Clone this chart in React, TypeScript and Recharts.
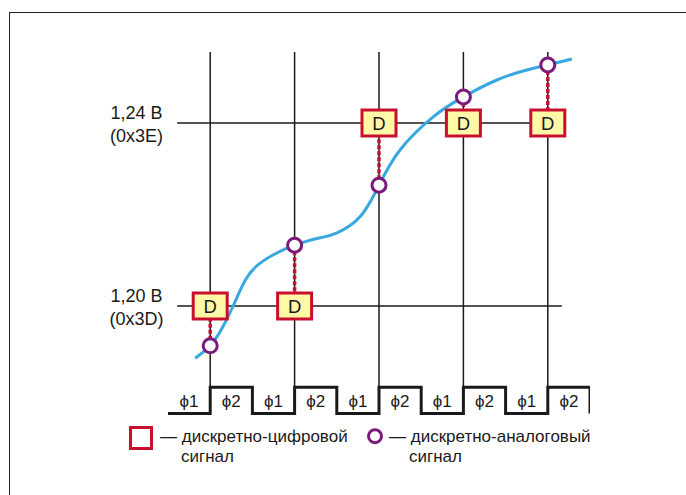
import React from 'react';
import { ComposedChart, Line, Scatter, XAxis, YAxis, ReferenceLine, Legend } from 'recharts';

const FONT = '"Liberation Sans", Arial, Helvetica, sans-serif';
const RED = '#c8102e';
const PURPLE = '#7a1a7c';
const BLUE = '#38a8e0';
const YELLOW = '#fff8a6';
const INK = '#1a1a1a';

// sampling moments (grid columns)
const SAMPLE_X = [1, 2, 3, 4, 5];
// analog value at each sampling moment, V
const ANALOG_V = [1.1913, 1.2133, 1.2264, 1.2457, 1.2527];
// quantized (digital) value, V
const DIGITAL_V = [1.2, 1.2, 1.24, 1.24, 1.24];

// quantization levels
const LEVEL_V = [1.2, 1.24];
const LEVEL_LABELS = ['1,20 В', '1,24 В'];
const LEVEL_CODES = ['(0x3D)', '(0x3E)'];

// continuous input signal
const CURVE_X = [0.822, 1, 1.142, 1.272, 1.42, 1.58, 1.76, 2, 2.302, 2.503, 2.775, 3, 3.249, 3.639, 4, 4.396, 4.751, 5, 5.284];
const CURVE_V = [1.1886, 1.1913, 1.1952, 1.2, 1.2058, 1.2092, 1.2113, 1.2133, 1.2149, 1.216, 1.2195, 1.2264, 1.2341, 1.2413, 1.2457, 1.2494, 1.2516, 1.2527, 1.254];

// two-phase clock
const CLOCK_T = [0.5, 1, 1.5, 2, 2.5, 3, 3.5, 4, 4.5, 5, 5.5];
const CLOCK_LEVEL = [0, 1, 0, 1, 0, 1, 0, 1, 0, 1, 0];
const PHASE_LABELS = ['ϕ1', 'ϕ2', 'ϕ1', 'ϕ2', 'ϕ1', 'ϕ2', 'ϕ1', 'ϕ2', 'ϕ1', 'ϕ2'];

const GRID_TOP_V = 1.2555;
const GRID_BOTTOM_V = 1.1822;
const HLINE_START = 0.609;
const HLINE_END = [5.166, 5.2];

const curveData = CURVE_X.map((x, i) => ({ x, y: CURVE_V[i] }));
const analogData = SAMPLE_X.map((x, i) => ({ x, y: ANALOG_V[i] }));
const digitalData = SAMPLE_X.map((x, i) => ({ x, y: DIGITAL_V[i] }));
const clockData = CLOCK_T.map((x, i) => ({ x, y: CLOCK_LEVEL[i] }));
const phaseData = PHASE_LABELS.map((label, i) => ({ x: (CLOCK_T[i] + CLOCK_T[i + 1]) / 2, y: 0.5, label }));

const LevelTick = (props: any) => {
  const { y, payload } = props;
  const i = LEVEL_V.indexOf(payload.value);
  return (
    <g fontFamily={FONT} fontSize={18} fill={INK}>
      <text x={136.5} y={y - 4} textAnchor="middle">{LEVEL_LABELS[i]}</text>
      <text x={136.5} y={y + 19} textAnchor="middle">{LEVEL_CODES[i]}</text>
    </g>
  );
};

const DigitalBox = (props: any) => {
  const { cx, cy } = props;
  return (
    <g>
      <rect x={cx - 17} y={cy - 13} width={34} height={26} fill={YELLOW} stroke={RED} strokeWidth={3} />
      <text x={cx} y={cy + 7} textAnchor="middle" fontFamily={FONT} fontSize={18.5} fill={INK}>D</text>
    </g>
  );
};

const AnalogDot = (props: any) => {
  const { cx, cy } = props;
  return <circle cx={cx} cy={cy} r={7} fill="#fff" stroke={PURPLE} strokeWidth={3} />;
};

const PhaseLabel = (props: any) => {
  const { cx, cy, payload, index } = props;
  const label = payload?.label ?? PHASE_LABELS[index];
  return (
    <text x={cx} y={cy + 6.5} textAnchor="middle" fontFamily={FONT} fontSize={17} fill={INK}>{label}</text>
  );
};

const LegendContent = () => (
  <svg width={686} height={80} style={{ display: 'block' }}>
    <g fontFamily={FONT} fontSize={17} fill={INK}>
      <rect x={130.5} y={12.5} width={21} height={21} fill="#fff" stroke={RED} strokeWidth={3} />
      <text x={160} y={26.5}>— дискретно-цифровой</text>
      <text x={181} y={46.5}>сигнал</text>
      <circle cx={375} cy={21.2} r={6.5} fill="#fff" stroke={PURPLE} strokeWidth={3} />
      <text x={389} y={26.5}>— дискретно-аналоговый</text>
      <text x={409} y={46.5}>сигнал</text>
    </g>
  </svg>
);

export default function App() {
  return (
    <div style={{ position: 'absolute', left: 0, top: 0, width: 686, height: 495, overflow: 'hidden', background: '#fff' }}>
      <div
        style={{
          position: 'absolute',
          left: 8.5,
          top: 11.5,
          width: 720,
          height: 520,
          borderTop: '1.5px solid #222',
          borderLeft: '1.5px solid #222',
        }}
      />
      <div style={{ position: 'absolute', left: 0, top: 0 }}>
        <ComposedChart width={686} height={495} margin={{ top: 31.5, right: 96, bottom: 51.75, left: 108 }}>
          <XAxis dataKey="x" type="number" domain={[0.5, 5.5]} allowDataOverflow hide />
          <YAxis
            yAxisId="v"
            dataKey="y"
            type="number"
            domain={[1.17, 1.26]}
            allowDataOverflow
            ticks={LEVEL_V}
            interval={0}
            width={60}
            axisLine={false}
            tickLine={false}
            tick={<LevelTick />}
          />
          <YAxis yAxisId="clk" dataKey="y" type="number" domain={[-1.14, 14.58]} allowDataOverflow hide />

          {SAMPLE_X.map((x) => (
            <ReferenceLine
              key={`g${x}`}
              yAxisId="v"
              segment={[{ x, y: GRID_TOP_V }, { x, y: GRID_BOTTOM_V }]}
              stroke={INK}
              strokeWidth={1.5}
            />
          ))}
          {LEVEL_V.map((v, i) => (
            <ReferenceLine
              key={`h${v}`}
              yAxisId="v"
              segment={[{ x: HLINE_START, y: v }, { x: HLINE_END[i], y: v }]}
              stroke={INK}
              strokeWidth={1.5}
            />
          ))}

          <Line
            yAxisId="clk"
            data={clockData}
            dataKey="y"
            type="stepAfter"
            stroke={INK}
            strokeWidth={3}
            strokeLinejoin="miter"
            dot={false}
            activeDot={false}
            isAnimationActive={false}
          />
          <Scatter yAxisId="clk" data={phaseData} dataKey="y" shape={<PhaseLabel />} isAnimationActive={false} />

          <Line
            yAxisId="v"
            data={curveData}
            dataKey="y"
            type="natural"
            stroke={BLUE}
            strokeWidth={3}
            dot={false}
            activeDot={false}
            isAnimationActive={false}
          />

          {SAMPLE_X.map((x, i) => (
            <ReferenceLine
              key={`c${x}`}
              yAxisId="v"
              segment={[{ x, y: ANALOG_V[i] }, { x, y: DIGITAL_V[i] }]}
              stroke={RED}
              strokeWidth={3.5}
              strokeDasharray="4 2"
            />
          ))}

          <Scatter yAxisId="v" data={digitalData} dataKey="y" shape={<DigitalBox />} isAnimationActive={false} />
          <Scatter yAxisId="v" data={analogData} dataKey="y" shape={<AnalogDot />} isAnimationActive={false} />

          <Legend
            layout="horizontal"
            verticalAlign="middle"
            align="center"
            content={<LegendContent />}
            wrapperStyle={{ position: 'absolute', left: 0, top: 415, width: 686, height: 80, margin: 0 }}
          />
        </ComposedChart>
      </div>
    </div>
  );
}
